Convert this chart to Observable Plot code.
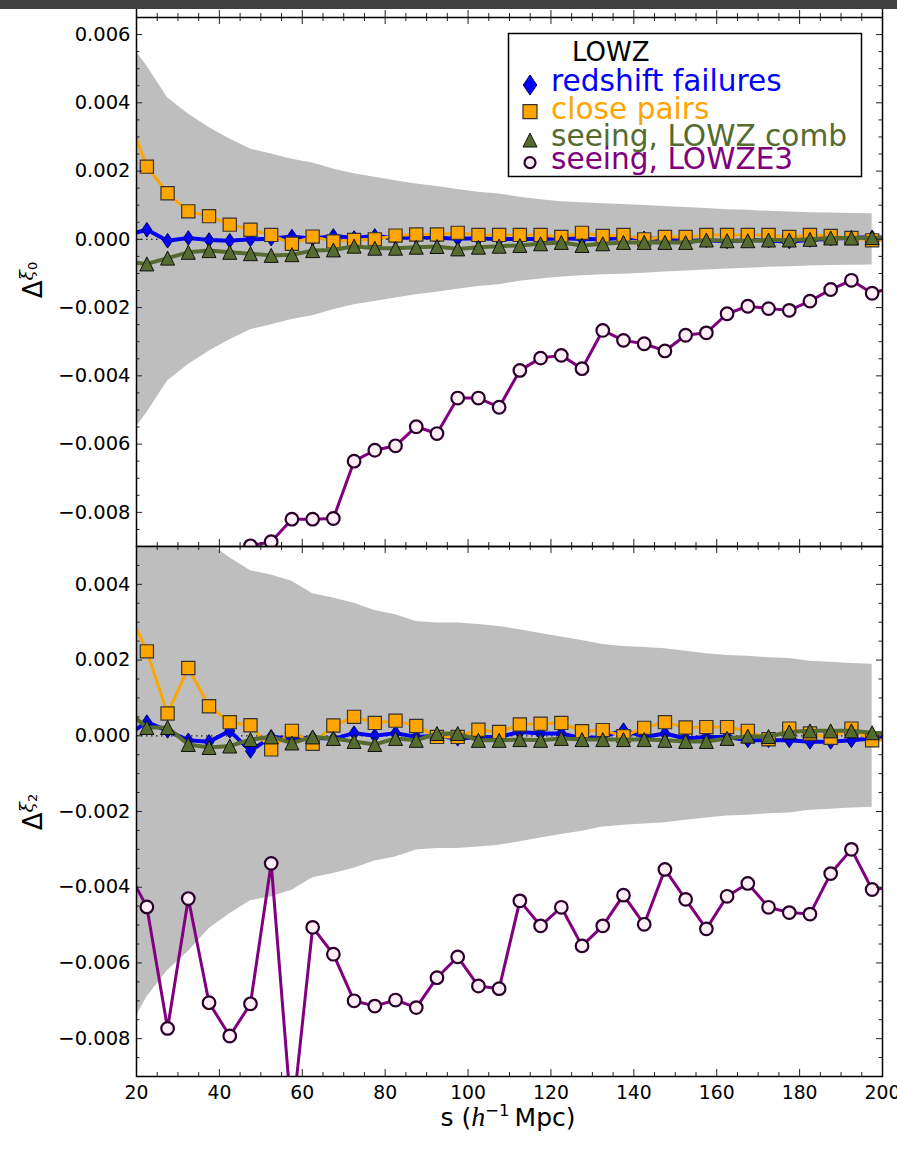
<!DOCTYPE html>
<html>
<head>
<meta charset="utf-8">
<script src="https://cdn.jsdelivr.net/npm/d3@7"></script>
<script src="https://cdn.jsdelivr.net/npm/@observablehq/plot@0.6"></script>
<style>
  body { margin: 0; background: #fff; }
  #fig { position: relative; width: 897px; height: 1153px; overflow: hidden; font-family: "DejaVu Sans", sans-serif; }
  #fig svg { position: absolute; left: 0; top: 0; }
  #bar { position: absolute; left: 0; top: 0; width: 897px; height: 9px; background: #404040; z-index: 5; }
</style>
</head>
<body>
<div id="fig"><div id="bar"></div></div>
<script>
// Bin centres of the separation s (h^-1 Mpc); the outer two bins fall just outside the axes.
const s = [17.5, 22.5, 27.5, 32.5, 37.5, 42.5, 47.5, 52.5, 57.5, 62.5, 67.5, 72.5, 77.5, 82.5, 87.5, 92.5,
  97.5, 102.5, 107.5, 112.5, 117.5, 122.5, 127.5, 132.5, 137.5, 142.5, 147.5, 152.5, 157.5, 162.5,
  167.5, 172.5, 177.5, 182.5, 187.5, 192.5, 197.5, 202.5];

// Separations at which the 1-sigma error band is tabulated.
const bandS = [17.5, 22.5, 27.5, 32.5, 37.5, 42.5, 47.5, 52.5, 57.5, 62.5, 67.5, 72.5, 77.5, 82.5, 87.5, 92.5,
  97.5, 102.5, 107.5, 112.5, 117.5, 122.5, 127.5, 132.5, 137.5, 142.5, 147.5, 152.5, 157.5, 162.5,
  167.5, 172.5, 177.5, 182.5, 187.5, 192.5, 197.5];

// 1-sigma uncertainty on the monopole and quadrupole
const sigma0 = [0.0059, 0.00508, 0.00415, 0.00367, 0.00328, 0.00294, 0.00265, 0.0025, 0.00235, 0.00224,
  0.00206, 0.00192, 0.00182, 0.00172, 0.00162, 0.00155, 0.00146, 0.00138, 0.00133, 0.00123, 0.00116,
  0.0011, 0.00107, 0.00104, 0.00102, 0.00099, 0.00096, 0.00093, 0.0009, 0.00087, 0.00085, 0.00082,
  0.0008, 0.00078, 0.00077, 0.00076, 0.00075];
const sigma2 = [0.0079, 0.0069, 0.0062, 0.0057, 0.0051, 0.0047, 0.00436, 0.00425, 0.00408, 0.00375,
  0.00364, 0.0035, 0.00331, 0.0032, 0.00302, 0.00298, 0.00298, 0.00294, 0.00289, 0.0028, 0.0027,
  0.00261, 0.00252, 0.00241, 0.00236, 0.00233, 0.0023, 0.00223, 0.00217, 0.00212, 0.0021, 0.00206,
  0.00204, 0.00197, 0.00194, 0.00191, 0.00189];

// Monopole shifts, Delta xi_0
const redshift0 = [0.00012, 0.00028, -0.00004, 0.00004, -0.00002, -0.00004, 0.0, 0.00002, 0.00008, 0.00002,
  0.0001, 0.00004, 0.0001, 0.00004, 0.00006, 0.00005, 0.00002, 0.00003, 0.0, 0.00002, 0.0, 0.00003,
  0.00001, 0.0, 0.00005, 0.00003, 0.0, -0.00005, -0.00003, -0.00006, -0.00002, -0.00004, -0.00006,
  -0.00002, 0.00002, 0.00005, 0.00006, 0.00004];
const closePairs0 = [0.00375, 0.00213, 0.00135, 0.00082, 0.00068, 0.00043, 0.00028, 0.00013, -0.00013, 0.00008,
  -0.00006, -0.00002, 0.0, 0.00011, 0.00014, 0.00014, 0.00019, 0.00013, 0.00013, 0.00013, 0.00013, 0.00007,
  0.00019, 0.0001, 0.00013, 0.0, 0.00007, 0.00007, 0.00013, 0.00013, 0.00013, 0.00013, 0.00007, 0.00013,
  0.0001, 0.00004, -0.00003, -0.00002];
const seeingComb0 = [-0.00066, -0.00072, -0.00055, -0.00038, -0.00033, -0.00038, -0.00042, -0.00047, -0.00045,
  -0.00033, -0.00031, -0.0002, -0.00026, -0.00026, -0.00023, -0.00021, -0.00028, -0.00023, -0.0002, -0.00018,
  -0.00013, -0.00009, -0.00018, -0.00013, -0.00009, -0.00009, -0.00009, -0.00009, -0.00002, -0.00004,
  -0.00004, -0.00002, -0.00002, 0.0, 0.00004, 0.00004, 0.00005, 0.00003];
const seeingE3_0 = [null, null, null, null, null, -0.0094, -0.00898, -0.00886, -0.0082, -0.0082, -0.00818,
  -0.0065, -0.00618, -0.00605, -0.00549, -0.00569, -0.00465, -0.00465, -0.00492, -0.00384, -0.00348,
  -0.0034, -0.00379, -0.00267, -0.00296, -0.00306, -0.00327, -0.00281, -0.00274, -0.00218, -0.00196,
  -0.00203, -0.00208, -0.00181, -0.00147, -0.0012, -0.00158, -0.0014];

// Quadrupole shifts, Delta xi_2
const redshift2 = [0.0, 0.00036, 0.00013, -0.00012, -0.00016, 0.00013, -0.0004, -0.00003, -0.00007, -0.00005,
  -0.00008, 0.00007, 0.0, 0.00007, -0.00003, 0.0, -0.00008, -0.00003, -0.00003, 0.0001, 0.00006, 0.00006,
  -0.00007, -0.00003, 0.00015, -0.00003, 0.00006, -0.00007, -0.00003, -0.00003, -0.00012, -0.00012,
  -0.00012, -0.00016, -0.00016, -0.00012, -0.00007, -0.00005];
const closePairs2 = [0.00343, 0.00223, 0.00059, 0.00179, 0.00078, 0.00036, 0.00028, -0.00036, 0.00013, -0.00021,
  0.00027, 0.0005, 0.00034, 0.0004, 0.00026, -0.00003, -0.00003, 0.00016, 0.0001, 0.0003, 0.00032, 0.00034,
  0.00012, 0.00015, -0.00001, 0.00021, 0.00036, 0.00022, 0.00023, 0.00023, 0.00013, -0.00009, 0.00019,
  0.00006, -0.00005, 0.00019, -0.00012, -0.0001];
const seeingComb2 = [0.00068, 0.00022, 0.00022, -0.00023, -0.00031, -0.00027, -0.0001, -0.00003, -0.00019,
  -0.00003, -0.00007, -0.00015, -0.00023, -0.00007, -0.00012, 0.00006, 0.00006, -0.00012, -0.00012, -0.0001,
  -0.00012, -0.00007, -0.0001, -0.0001, -0.0001, -0.0001, -0.00012, -0.00015, -0.00015, -0.00007, -0.00001,
  -0.00002, 0.0001, 0.00013, 0.00013, 0.00013, 0.00008, 0.00006];
const seeingE3_2 = [-0.0035, -0.00452, -0.00773, -0.0043, -0.00705, -0.00793, -0.00708, -0.00337, -0.0102,
  -0.00506, -0.00577, -0.007, -0.00714, -0.00698, -0.00718, -0.00639, -0.00584, -0.00661, -0.00668, -0.00436,
  -0.00502, -0.00453, -0.00555, -0.00502, -0.00421, -0.00498, -0.00353, -0.00432, -0.0051, -0.00424, -0.0039,
  -0.00453, -0.00467, -0.00471, -0.00364, -0.003, -0.00406, -0.004];

// Legend entries and axis ticks
const legendTitle = "LOWZ";
const seriesNames = ["redshift failures", "close pairs", "seeing, LOWZ comb", "seeing, LOWZE3"];
const xTicks = [20, 40, 60, 80, 100, 120, 140, 160, 180, 200];
const yTicks0 = [-0.008, -0.006, -0.004, -0.002, 0, 0.002, 0.004, 0.006];
const yTicks2 = [-0.008, -0.006, -0.004, -0.002, 0, 0.002, 0.004];

// matplotlib-like marker shapes (size = pi r^2)
const thinDiamond = {draw(ctx, size) { const r = Math.sqrt(size / Math.PI);
  ctx.moveTo(0, -r); ctx.lineTo(0.68 * r, 0); ctx.lineTo(0, r); ctx.lineTo(-0.68 * r, 0); ctx.closePath(); }};
const square = {draw(ctx, size) { const r = Math.sqrt(size / Math.PI); ctx.rect(-r, -r, 2 * r, 2 * r); }};
const triangle = {draw(ctx, size) { const r = Math.sqrt(size / Math.PI);
  ctx.moveTo(0, -r); ctx.lineTo(r, r); ctx.lineTo(-r, r); ctx.closePath(); }};
const circle = {draw(ctx, size) { const r = Math.sqrt(size / Math.PI); ctx.moveTo(r, 0); ctx.arc(0, 0, r, 0, 2 * Math.PI); }};

const styles = [
  {color: "#0000ff", lw: 4, symbol: thinDiamond, r: 7.3, fill: "#0000ff", edge: "#000066", ew: 1, legR: 10},
  {color: "#ffa500", lw: 3, symbol: square, r: 6.6, fill: "#ffa500", edge: "#333333", ew: 1.2, legR: 7},
  {color: "#556b2f", lw: 4, symbol: triangle, r: 7, fill: "#556b2f", edge: "#111111", ew: 1, legR: 7},
  {color: "#800080", lw: 3, symbol: circle, r: 6.3, fill: "#fdeef6", edge: "#2a002a", ew: 2.2, legR: 5.5}
];

const W = 897, H = 1153, ML = 136, MR = 15;
const fig = document.getElementById("fig");

function panel({top, bottom, yDomain, yTicks, minorRange, sigma, values, showX, cropAbove}) {
  const plotH = bottom - top, plotW = W - ML - MR;
  const xMinor = d3.range(20, 201, 5).filter(d => d % 20 !== 0);
  const yMinor = d3.range(minorRange[0], minorRange[1] + 1).filter(k => k % 4 !== 0).map(k => k * 0.0005);
  const tickStyle = {stroke: "#222", strokeWidth: 1};
  const marks = [
    Plot.areaY(bandS, {x: d => d, y1: (d, i) => -sigma[i], y2: (d, i) => sigma[i], fill: "#bebebe", clip: true}),
    Plot.ruleY([0], {stroke: "#222", strokeWidth: 1.2, strokeDasharray: "1.5,3.5", clip: true})
  ];
  values.forEach((vals, k) => {
    const st = styles[k];
    const rows = s.map((x, i) => ({s: x, v: vals[i]}));
    marks.push(Plot.line(rows, {x: "s", y: "v", stroke: st.color, strokeWidth: st.lw, clip: true}));
    marks.push(Plot.dot(rows, {x: "s", y: "v", symbol: st.symbol, r: st.r, fill: st.fill,
      stroke: st.edge, strokeWidth: st.ew, clip: true}));
  });
  // inward-pointing ticks on all four sides
  marks.push(
    Plot.tickX(xTicks, {x: d => d, insetTop: plotH - 7, ...tickStyle}),
    Plot.tickX(xMinor, {x: d => d, insetTop: plotH - 4, ...tickStyle}),
    Plot.tickX(xTicks, {x: d => d, insetBottom: plotH - 7, ...tickStyle}),
    Plot.tickX(xMinor, {x: d => d, insetBottom: plotH - 4, ...tickStyle}),
    Plot.tickY(yTicks, {y: d => d, insetRight: plotW - 6, ...tickStyle}),
    Plot.tickY(yMinor, {y: d => d, insetRight: plotW - 3.5, ...tickStyle}),
    Plot.tickY(yTicks, {y: d => d, insetLeft: plotW - 6, ...tickStyle}),
    Plot.tickY(yMinor, {y: d => d, insetLeft: plotW - 3.5, ...tickStyle}),
    Plot.axisY(yTicks, {tickSize: 0, tickPadding: 6, tickFormat: ".3f", label: null, fontSize: 19.5})
  );
  if (cropAbove) {
    // bottom edge of the panel stacked above this one
    marks.push(
      Plot.tickX(xTicks, {x: d => d, insetTop: -7, insetBottom: plotH, ...tickStyle}),
      Plot.tickX(xMinor, {x: d => d, insetTop: -4, insetBottom: plotH, ...tickStyle}),
      Plot.tickX([20, 200], {x: d => d, insetTop: -8, insetBottom: plotH, stroke: "black", strokeWidth: 1.5})
    );
  }
  if (showX) marks.push(Plot.axisX(xTicks, {tickSize: 0, tickPadding: 9, label: null, fontSize: 18.8}));
  marks.push(Plot.frame({stroke: "black", strokeWidth: 1.5}));
  return Plot.plot({
    width: W, height: H,
    marginLeft: ML, marginRight: MR, marginTop: top, marginBottom: H - bottom,
    x: {domain: [20, 200], axis: null},
    y: {domain: yDomain, axis: null},
    style: {background: "transparent", fontFamily: "DejaVu Sans, sans-serif", fontSize: "18.8px", color: "black"},
    marks
  });
}

const topPlot = panel({
  top: 17, bottom: 546, yDomain: [-0.009, 0.0065], yTicks: yTicks0, minorRange: [-18, 13],
  sigma: sigma0, values: [redshift0, closePairs0, seeingComb0, seeingE3_0], showX: false, cropAbove: true
});
const bottomPlot = panel({
  top: 546, bottom: 1076, yDomain: [-0.009, 0.005], yTicks: yTicks2, minorRange: [-18, 10],
  sigma: sigma2, values: [redshift2, closePairs2, seeingComb2, seeingE3_2], showX: true, cropAbove: false
});
fig.appendChild(topPlot);
fig.appendChild(bottomPlot);

// y-axis labels: Delta with a xi subscript carrying the multipole order
function yLabel(svg, cy, order) {
  const t = d3.select(svg).append("text")
    .attr("transform", `translate(42,${cy}) rotate(-90)`)
    .attr("text-anchor", "middle")
    .attr("fill", "black")
    .style("font-family", "DejaVu Sans, sans-serif")
    .style("font-size", "26px");
  t.append("tspan").text("\u0394");
  t.append("tspan").attr("dy", -9).style("font-family", "DejaVu Serif, serif").style("font-style", "italic")
    .style("font-size", "19px").text("\u03be");
  t.append("tspan").attr("dy", 4).style("font-size", "13px").text(order);
}
yLabel(topPlot, 280, "0");
yLabel(bottomPlot, 812, "2");

// x-axis label
{
  const t = d3.select(bottomPlot).append("text")
    .attr("x", (ML + W - MR) / 2 - 1).attr("y", 1126)
    .attr("text-anchor", "middle").attr("fill", "black")
    .style("font-family", "DejaVu Sans, sans-serif").style("font-size", "25px");
  t.append("tspan").text("s (");
  t.append("tspan").style("font-family", "Liberation Serif, serif").style("font-style", "italic")
    .style("font-size", "28px").text("h");
  t.append("tspan").attr("dy", -10).style("font-size", "16.5px").text("\u22121");
  t.append("tspan").attr("dy", 10).text("\u2009Mpc)");
}

// legend box in the upper panel
{
  const g = d3.select(topPlot).append("g").attr("text-anchor", "start");
  g.append("rect").attr("x", 508.5).attr("y", 33.5).attr("width", 353).attr("height", 143)
    .attr("fill", "white").attr("stroke", "black").attr("stroke-width", 1.5);
  g.append("text").attr("x", 572).attr("y", 60.5).attr("fill", "black").attr("text-anchor", "start")
    .style("font-family", "DejaVu Sans, sans-serif").style("font-size", "26px").text(legendTitle);
  const rowY = [85, 111.7, 140, 162.7];
  const baseY = [91, 118.5, 146, 168.5];
  seriesNames.forEach((name, k) => {
    const st = styles[k];
    g.append("path")
      .attr("d", d3.symbol(st.symbol, Math.PI * st.legR * st.legR)())
      .attr("transform", `translate(530,${rowY[k]})`)
      .attr("fill", st.fill).attr("stroke", st.edge).attr("stroke-width", st.ew);
    g.append("text").attr("x", 551).attr("y", baseY[k]).attr("fill", st.color).attr("text-anchor", "start")
      .style("font-family", "DejaVu Sans, sans-serif").style("font-size", "29.6px").text(name);
  });
}
</script>
</body>
</html>
